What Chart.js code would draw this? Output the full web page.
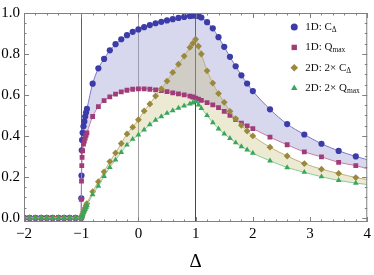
<!DOCTYPE html>
<html>
<head>
<meta charset="utf-8">
<script src="https://cdn.jsdelivr.net/npm/chart.js@4.4.1/dist/chart.umd.min.js"></script>
<style>
  html, body { margin: 0; padding: 0; background: #fff; }
  #wrap { width: 374px; height: 275px; }
</style>
</head>
<body>
<div id="wrap"><canvas id="grafica"></canvas></div>
<script>
// Valores de Δ (malla común para las cuatro series)
const deltas = [
  -2, -1.9, -1.8, -1.7, -1.6, -1.5, -1.4, -1.3, -1.2, -1.1, -1,
  -0.998, -0.995, -0.99, -0.985, -0.975, -0.96, -0.945, -0.93, -0.915, -0.9,
  -0.8, -0.7, -0.6, -0.5, -0.4, -0.3, -0.2, -0.1, 0,
  0.1, 0.2, 0.3, 0.4, 0.5, 0.6, 0.7, 0.8, 0.9, 0.95, 1, 1.05, 1.1,
  1.2, 1.3, 1.4, 1.5, 1.6, 1.7, 1.8, 1.9, 2,
  2.3, 2.6, 2.9, 3.2, 3.5, 3.8, 4
];

// 1D: C_Δ
const c1D = [
  0, 0, 0, 0, 0, 0, 0, 0, 0, 0, 0,
  0.096, 0.207, 0.33, 0.38, 0.415, 0.447, 0.471, 0.495, 0.514, 0.532,
  0.655, 0.73, 0.776, 0.818, 0.848, 0.872, 0.892, 0.908, 0.92,
  0.931, 0.941, 0.95, 0.957, 0.964, 0.97, 0.976, 0.981, 0.985, 0.987, 0.988, 0.985, 0.978,
  0.955, 0.925, 0.882, 0.835, 0.786, 0.74, 0.696, 0.656, 0.619,
  0.53, 0.458, 0.407, 0.362, 0.327, 0.3, 0.284
];

// 1D: Q_max
const q1D = [
  0, 0, 0, 0, 0, 0, 0, 0, 0, 0, 0,
  0.09, 0.18, 0.255, 0.295, 0.327, 0.36, 0.375, 0.39, 0.403, 0.415,
  0.495, 0.543, 0.572, 0.591, 0.604, 0.615, 0.623, 0.628, 0.63,
  0.63, 0.628, 0.625, 0.621, 0.616, 0.61, 0.605, 0.6, 0.594, 0.59, 0.585, 0.58, 0.574,
  0.563, 0.552, 0.538, 0.52, 0.5, 0.48, 0.463, 0.449, 0.436,
  0.394, 0.357, 0.322, 0.298, 0.271, 0.255, 0.24
];

// 2D: 2× C_Δ
const c2D = [
  0, 0, 0, 0, 0, 0, 0, 0, 0, 0, 0,
  0.002, 0.004, 0.008, 0.012, 0.019, 0.03, 0.04, 0.05, 0.06, 0.07,
  0.128, 0.177, 0.225, 0.275, 0.317, 0.363, 0.41, 0.443, 0.479,
  0.522, 0.556, 0.595, 0.63, 0.668, 0.71, 0.75, 0.79, 0.832, 0.852, 0.872, 0.838, 0.8,
  0.718, 0.658, 0.607, 0.564, 0.52, 0.484, 0.452, 0.424, 0.4,
  0.345, 0.302, 0.265, 0.238, 0.217, 0.197, 0.187
];

// 2D: 2× Q_max
const q2D = [
  0, 0, 0, 0, 0, 0, 0, 0, 0, 0, 0,
  0.002, 0.004, 0.008, 0.011, 0.018, 0.027, 0.035, 0.043, 0.052, 0.06,
  0.114, 0.155, 0.203, 0.247, 0.283, 0.32, 0.356, 0.384, 0.405,
  0.43, 0.455, 0.477, 0.495, 0.511, 0.524, 0.536, 0.547, 0.557, 0.562, 0.567, 0.552, 0.535,
  0.5, 0.465, 0.435, 0.41, 0.388, 0.367, 0.348, 0.332, 0.316,
  0.279, 0.246, 0.223, 0.201, 0.183, 0.17, 0.163
];

// Etiquetas de la leyenda (texto + subíndice)
const seriesLabels = ["1D: C", "1D: Q", "2D: 2\u00d7 C", "2D: 2\u00d7 Q"];
const seriesSubs = ["\u0394", "max", "\u0394", "max"];

// Marcas de los ejes y líneas verticales de referencia
const xTicks = [-2, -1, 0, 1, 2, 3, 4];
const yTicks = [0, 0.2, 0.4, 0.6, 0.8, 1.0];
const refLines = [-1, 0, 1];

document.addEventListener("DOMContentLoaded", () => {
  const $ = (id) => document.getElementById(id);
  const SERIF = '"Liberation Serif", "DejaVu Serif", serif';
  const lastIdx = deltas.length - 1;

  const toPoints = (ys) => deltas.map((x, i) => ({ x, y: ys[i] }));

  // El último punto (Δ = 4) solo prolonga la curva, sin marcador
  const radiusFor = (r) => (ctx) => (ctx.dataIndex === lastIdx ? 0 : r);

  // Estilos de cada serie
  const styles = [
    { pts: c1D, shape: "circle", r: 3.1, dot: "#3c3ca8", line: "#7b7bc9", fill: "rgba(150,150,210,0.38)", target: "+1", order: 4 },
    { pts: q1D, shape: "rect", r: 3.4, dot: "#a03c7a", line: "#c97aa5", fill: "transparent", target: false, order: 3 },
    { pts: c2D, shape: "rectRot", r: 3.4, dot: "#9a893c", line: "#bfb07a", fill: "rgba(190,180,100,0.28)", target: "+1", order: 2 },
    { pts: q2D, shape: "triangle", r: 3.3, dot: "#3aa65c", line: "#86cc96", fill: "transparent", target: false, order: 1 },
  ];

  const datasets = styles.map((s, i) => ({
    label: seriesLabels[i],
    sub: seriesSubs[i],
    data: toPoints(s.pts),
    order: s.order,
    borderColor: s.line,
    borderWidth: 1,
    backgroundColor: s.fill,
    fill: s.target,
    cubicInterpolationMode: "monotone",
    pointStyle: s.shape,
    pointRadius: radiusFor(s.r),
    legendRadius: s.r + 0.4,
    pointBackgroundColor: s.dot,
    pointBorderColor: s.dot,
    pointBorderWidth: 0,
    pointHoverRadius: 0,
  }));

  // Marco con marcas hacia dentro (estilo Mathematica)
  const framePlugin = {
    id: "marco",
    afterDatasetsDraw(chart) {
      const { ctx, chartArea: a, scales: { x, y } } = chart;
      ctx.save();
      ctx.strokeStyle = "#808080";
      ctx.lineWidth = 1;
      ctx.strokeRect(a.left + 0.5, a.top + 0.5, a.right - a.left - 1, a.bottom - a.top - 1);

      ctx.beginPath();
      for (let k = 0; k <= 30; k++) {
        const px = Math.round(x.getPixelForValue(-2 + k * 0.2)) + 0.5;
        const len = k % 5 === 0 ? 5 : 2.5;
        ctx.moveTo(px, a.bottom);
        ctx.lineTo(px, a.bottom - len);
        ctx.moveTo(px, a.top);
        ctx.lineTo(px, a.top + len);
      }
      for (let k = 0; k <= 20; k++) {
        const py = Math.round(y.getPixelForValue(k * 0.05)) + 0.5;
        const len = k % 4 === 0 ? 5 : 2.5;
        ctx.moveTo(a.left, py);
        ctx.lineTo(a.left + len, py);
        ctx.moveTo(a.right, py);
        ctx.lineTo(a.right - len, py);
      }
      ctx.stroke();
      ctx.restore();
    },
  };

  // Leyenda propia, para poder escribir subíndices
  const legendPlugin = {
    id: "leyenda",
    afterDraw(chart) {
      const { ctx, chartArea: a } = chart;
      chart.data.datasets.forEach((ds, i) => {
        const y = a.top + 14 + i * 20.4;
        const mx = a.right - 73;
        const tx = a.right - 62;
        ctx.save();
        ctx.fillStyle = ds.pointBackgroundColor;
        Chart.helpers.drawPoint(ctx, { pointStyle: ds.pointStyle, radius: ds.legendRadius, rotation: 0, borderWidth: 0 }, mx, y);
        ctx.fillStyle = "#111";
        ctx.textBaseline = "middle";
        ctx.font = `11px ${SERIF}`;
        ctx.fillText(ds.label, tx, y);
        const w = ctx.measureText(ds.label).width;
        ctx.font = `7.5px ${SERIF}`;
        ctx.fillText(ds.sub, tx + w, y + 3);
        ctx.restore();
      });
    },
  };

  const gridColor = (v) => {
    if (v === -1) return "rgba(70,70,70,0.85)";
    if (v === 0) return "rgba(120,120,120,0.7)";
    if (v === 1) return "rgba(50,50,50,0.9)";
    return "transparent";
  };

  new Chart($("grafica"), {
    type: "line",
    data: { datasets },
    options: {
      responsive: true,
      maintainAspectRatio: false,
      animation: false,
      events: [],
      layout: { padding: { left: 0, right: 6, top: 9, bottom: 0 } },
      plugins: {
        legend: { display: false },
        tooltip: { enabled: false },
        filler: { drawTime: "beforeDatasetsDraw" },
      },
      scales: {
        x: {
          type: "linear",
          min: -2,
          max: 4,
          afterBuildTicks: (s) => { s.ticks = xTicks.map((v) => ({ value: v })); },
          afterFit: (s) => { s.height = 53; },
          ticks: {
            color: "#000",
            padding: 3,
            maxRotation: 0,
            font: { family: SERIF, size: 15 },
            callback: (v) => (v < 0 ? "\u2212" + Math.abs(v) : String(v)),
          },
          grid: {
            drawTicks: false,
            lineWidth: (ctx) => (refLines.includes(ctx.tick?.value) ? 1 : 0),
            color: (ctx) => gridColor(ctx.tick?.value),
          },
          border: { display: false },
          title: {
            display: true,
            text: "\u0394",
            color: "#000",
            font: { family: SERIF, size: 19 },
            padding: { top: 0, bottom: 2 },
          },
        },
        y: {
          min: -0.02,
          max: 1.0,
          afterBuildTicks: (s) => { s.ticks = yTicks.map((v) => ({ value: v })); },
          afterFit: (s) => { s.width = 24; },
          ticks: {
            color: "#000",
            padding: 4,
            font: { family: SERIF, size: 15 },
            callback: (v) => Number(v).toFixed(1),
          },
          grid: { display: false, drawTicks: false },
          border: { display: false },
        },
      },
    },
    plugins: [framePlugin, legendPlugin],
  });
});
</script>
</body>
</html>
